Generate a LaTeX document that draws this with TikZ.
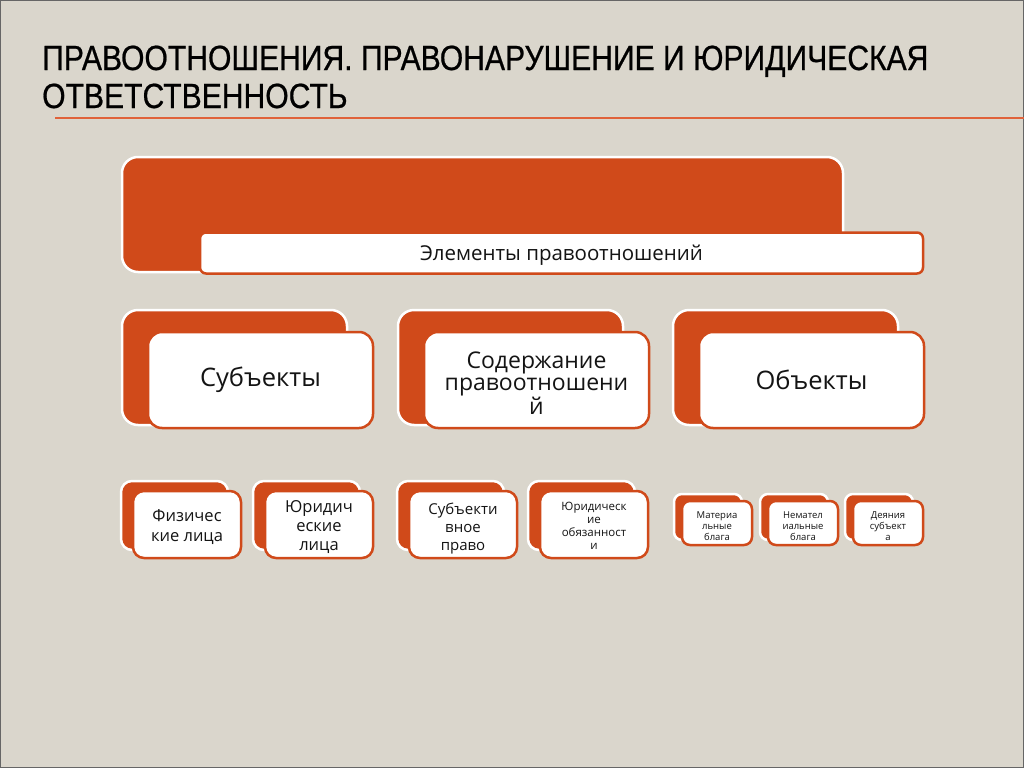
\documentclass[tikz,border=0pt]{standalone}
\usepackage{fontspec}
\setmainfont{Open Sans}
\newfontfamily\titlefont[FakeStretch=0.86,FakeBold=0.6]{Liberation Sans}
\definecolor{slidebg}{RGB}{218,214,204}
\definecolor{boxorange}{RGB}{208,74,26}
\definecolor{ruleorange}{RGB}{224,98,58}
\definecolor{textdark}{RGB}{20,20,20}
\tikzset{
  backbox/.style={draw=white, line width=2.5pt, fill=boxorange, inner sep=0pt},
  frontbox/.style={draw=boxorange, line width=2.5pt, fill=white, inner sep=0pt, align=center, text=textdark},
  boxtext/.style={text=textdark, align=center, inner sep=0pt},
}

\begin{document}
\begin{tikzpicture}[x=1pt,y=-1pt]
\useasboundingbox (0,0) rectangle (1024,768);
\fill[slidebg] (0,0) rectangle (1024,768);
\draw[black!60, line width=1.2pt] (0.6,0.6) rectangle (1023.4,767.4);
\node[anchor=base west, align=left, text=black, inner sep=0pt, font=\titlefont\fontsize{35}{38}\selectfont] (title) at (42,108) {ПРАВООТНОШЕНИЯ. ПРАВОНАРУШЕНИЕ И ЮРИДИЧЕСКАЯ\\ОТВЕТСТВЕННОСТЬ};
\coordinate (ruleL) at (55,118);
\coordinate (ruleR) at (1024,118);
\draw[ruleorange, line width=2.6pt] (ruleL) -- (ruleR);

\node[backbox, rounded corners=16pt, minimum width=721pt, minimum height=115pt] (topback) at (482.5,214.5) {};
\node[frontbox, rounded corners=6pt, minimum width=723pt, minimum height=41pt] (topfront) at (561.5,253) {};
\node[boxtext, font=\fontsize{20.5}{24}\selectfont] (toptext) at (561.5,255) {Элементы правоотношений};

\foreach \dx/\name in {0/subj, 276/soder, 551/obj}{
  \node[backbox, rounded corners=16pt, minimum width=225pt, minimum height=115pt] (\name back) at (234.5+\dx,367.5) {};
  \node[frontbox, rounded corners=14pt, minimum width=225pt, minimum height=96pt] (\name front) at (260.5+\dx,380) {};
}
\node[boxtext, font=\fontsize{25.5}{28}\selectfont] (subjtext) at (subjfront) {Субъекты};
\node[boxtext, font=\fontsize{23}{22}\selectfont] (sodertext) at ([yshift=-3pt]soderfront) {Содержание\\правоотношени\\й};
\node[boxtext, font=\fontsize{25.5}{28}\selectfont] (objtext) at (objfront) {Объекты};

\foreach \x/\name in {121/fiz, 253/jur, 397/prav, 528/obyaz}{
  \node[backbox, rounded corners=11pt, minimum width=107pt, minimum height=69pt] (\name back) at (\x+53.5,515.5) {};
  \node[frontbox, rounded corners=11pt, minimum width=108pt, minimum height=67pt] (\name front) at (\x+12+54,524.5) {};
}
\node[boxtext, font=\fontsize{16.5}{20}\selectfont] (fiztext) at ([yshift=-3pt]fizfront) {Физичес\\кие лица};
\node[boxtext, font=\fontsize{16.5}{19}\selectfont] (jurtext) at ([yshift=-3pt]jurfront) {Юридич\\еские\\лица};
\node[boxtext, font=\fontsize{15}{18}\selectfont] (pravtext) at ([yshift=-4pt]pravfront) {Субъекти\\вное\\право};
\node[boxtext, font=\fontsize{11.5}{13}\selectfont] (obyaztext) at ([yshift=-1pt]obyazfront) {Юридическ\\ие\\обязанност\\и};

\foreach \x/\name in {674/mat, 760/nemat, 845/deyan}{
  \node[backbox, rounded corners=8pt, minimum width=68pt, minimum height=46pt] (\name back) at (\x+34,517) {};
  \node[frontbox, rounded corners=8pt, minimum width=70pt, minimum height=44pt] (\name front) at (\x+8+35,523) {};
}
\node[boxtext, font=\fontsize{9.5}{11}\selectfont] (mattext) at ([yshift=-3pt]matfront) {Материа\\льные\\блага};
\node[boxtext, font=\fontsize{9.5}{11}\selectfont] (nemattext) at ([yshift=-3pt]nematfront) {Немател\\иальные\\блага};
\node[boxtext, font=\fontsize{9.5}{11}\selectfont] (deyantext) at ([yshift=-3pt]deyanfront) {Деяния\\субъект\\а};
\end{tikzpicture}
\end{document}
